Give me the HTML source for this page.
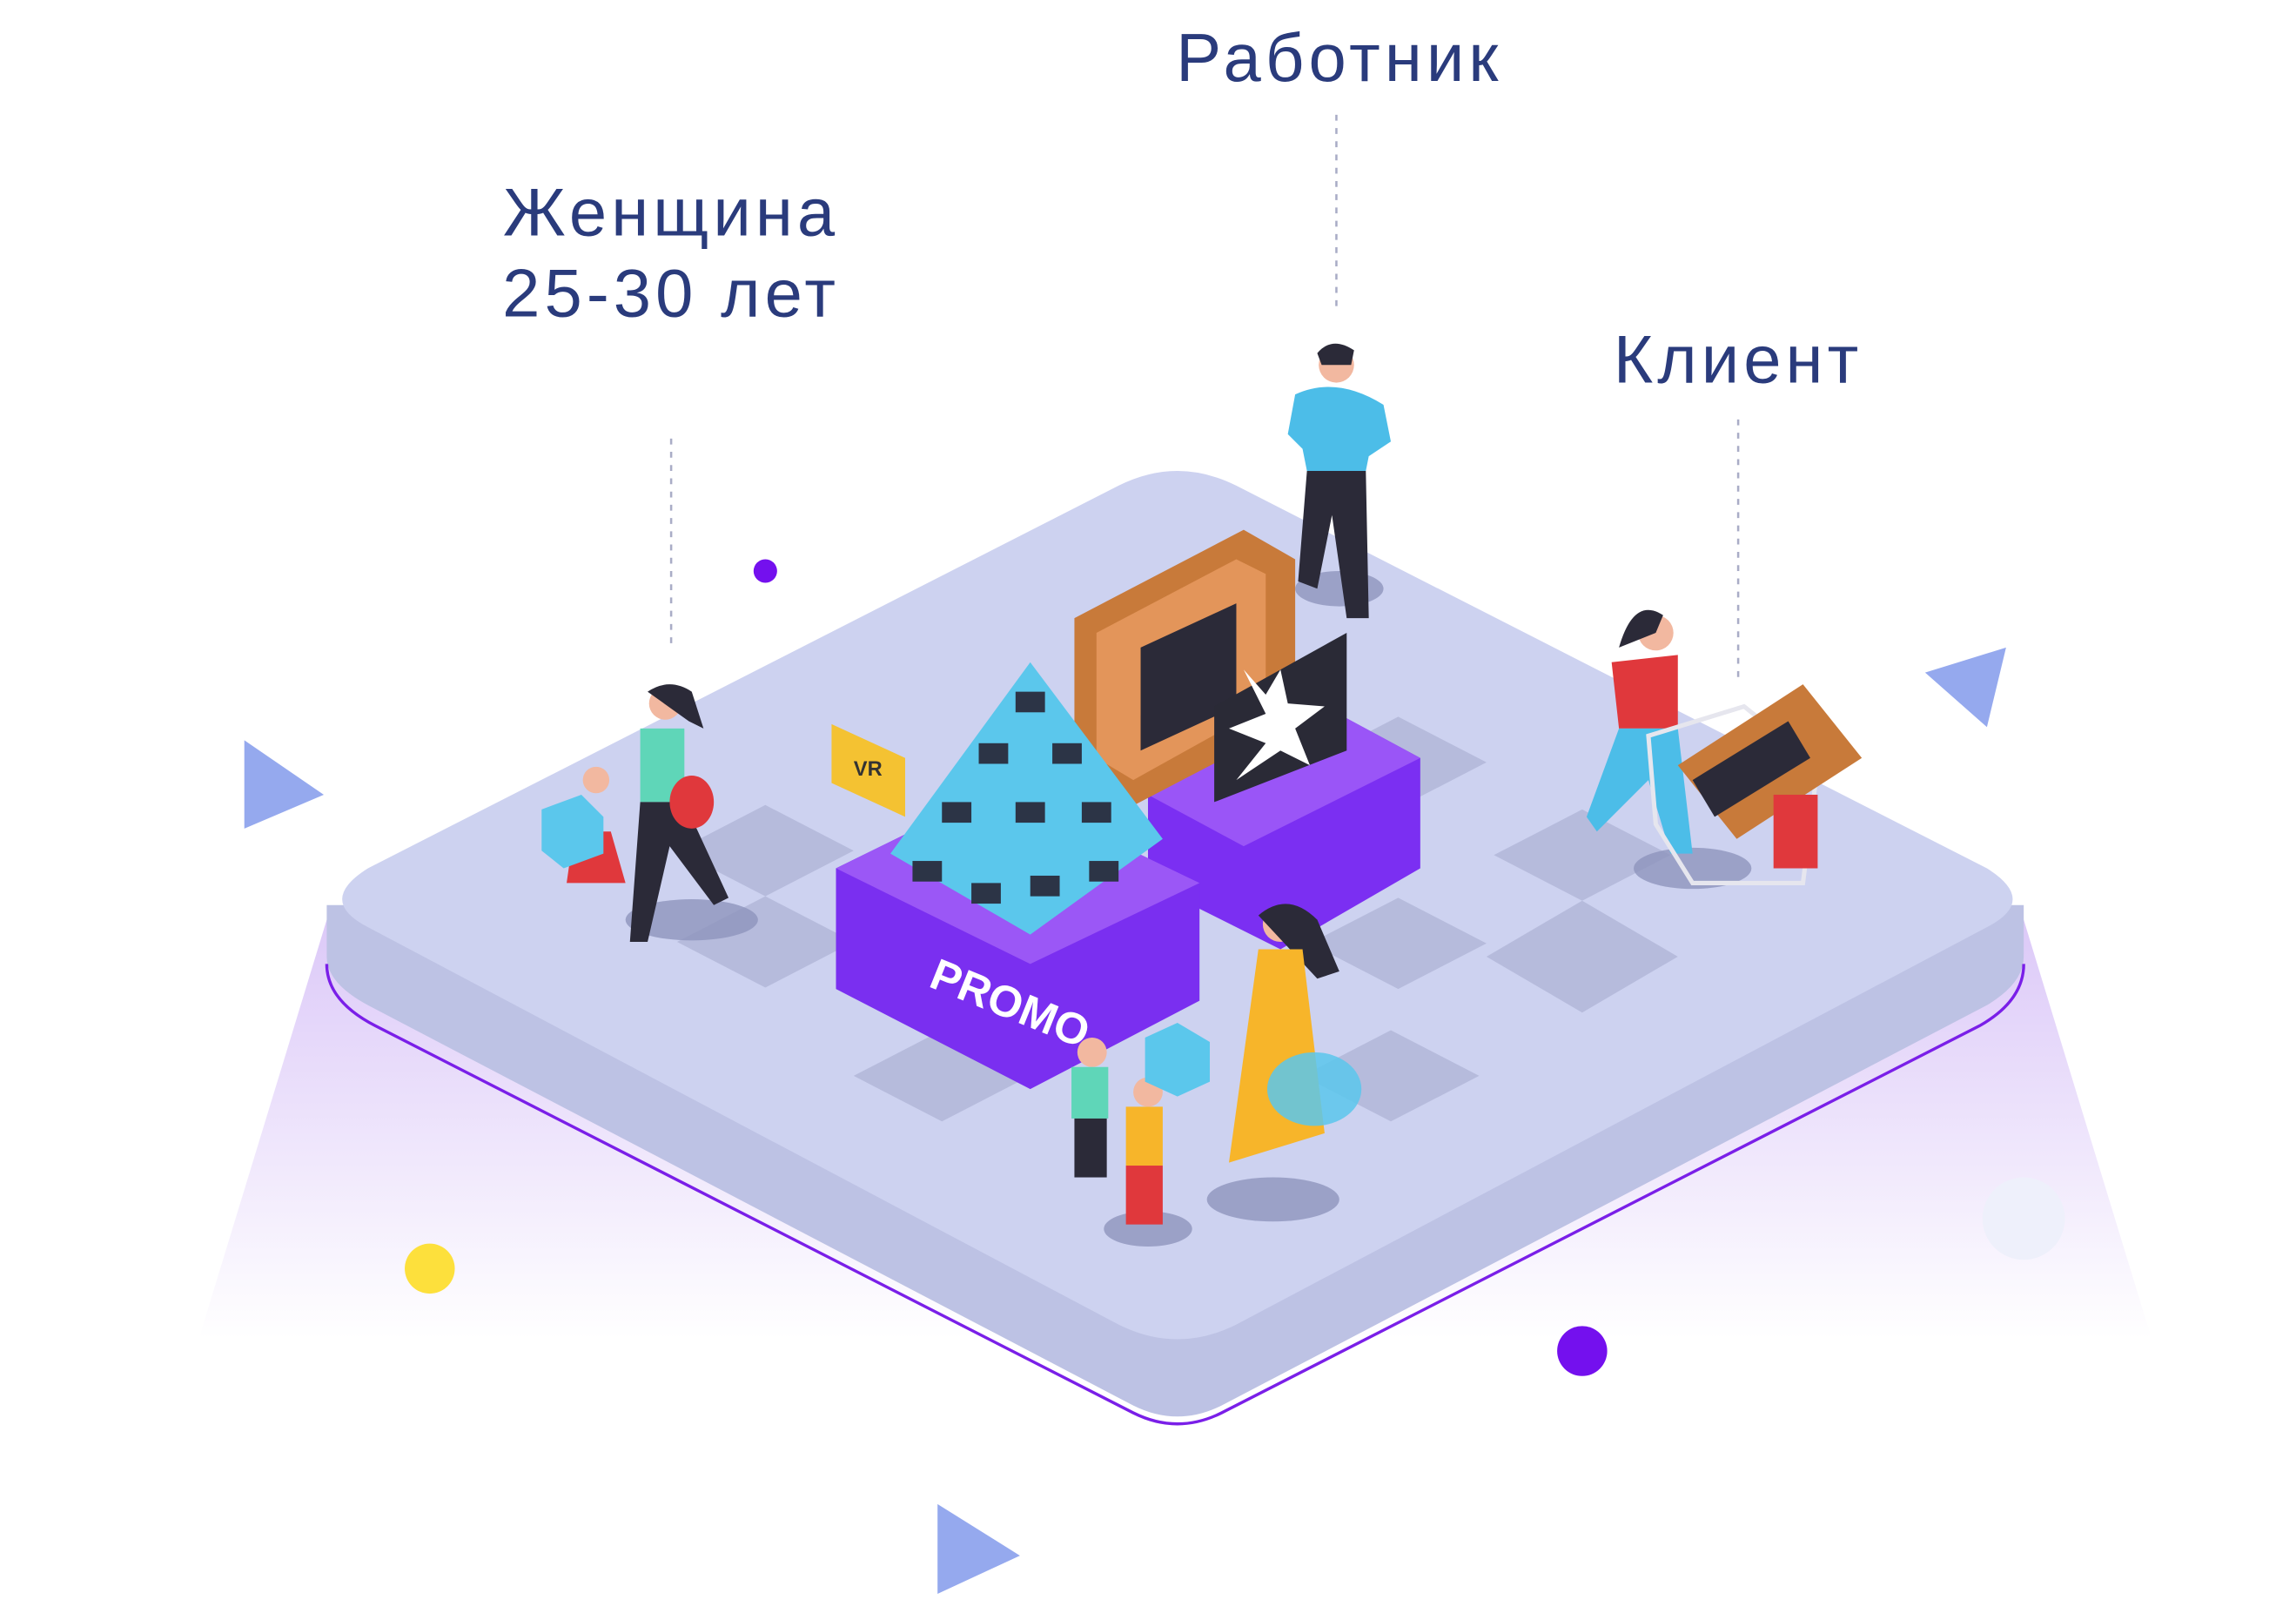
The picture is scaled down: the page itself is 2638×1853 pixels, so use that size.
<!DOCTYPE html>
<html><head><meta charset="utf-8"><style>
html,body{margin:0;padding:0;background:#fff}
svg{display:block}
</style></head><body>
<svg width="2638" height="1853" viewBox="0 0 1560 1096" preserveAspectRatio="none" xmlns="http://www.w3.org/2000/svg">
<defs>
<linearGradient id="g1" x1="0" y1="0" x2="0" y2="1">
<stop offset="0" stop-color="#dcc9f8"/><stop offset="1" stop-color="#ffffff"/>
</linearGradient>
</defs>
<rect width="1560" height="1096" fill="#fff"/>
<polygon points="222,625 1375,625 1462,910 135,910" fill="url(#g1)"/>
<path d="M222,615 L222,650 Q222,668 250,683 L770,955 Q800,970 830,955 L1350,683 Q1375,668 1375,650 L1375,615 Z" fill="#bdc2e4"/>
<path d="M250,590 L760,330 Q800,310 840,330 L1350,590 Q1385,612 1350,630 L840,900 Q800,920 760,900 L250,630 Q215,612 250,590 Z" fill="#cdd2f0"/>
<g fill="#b6bbdc">
<polygon points="520,547 580,578 520,609 460,578"/>
<polygon points="520,609 580,640 520,671 460,640"/>
<polygon points="640,700 700,731 640,762 580,731"/>
<polygon points="950,487 1010,518 950,549 890,518"/>
<polygon points="1075,550 1135,581 1075,612 1015,581"/>
<polygon points="1075,612 1140,650 1075,688 1010,650"/>
<polygon points="945,700 1005,731 945,762 885,731"/>
<polygon points="950,610 1010,641 950,672 890,641"/>
</g>
<path d="M222,655 Q222,680 255,697 L770,960 Q800,975 830,960 L1345,697 Q1375,680 1375,655" fill="none" stroke="#7a1fe8" stroke-width="2"/>
<g font-family="Liberation Sans, sans-serif" fill="#2a3b7c" text-anchor="middle" font-size="46" letter-spacing="3">
<text x="910" y="55">Работник</text>
<text x="456" y="160">Женщина</text>
<text x="456" y="215">25-30 лет</text>
<text x="1181" y="260">Клиент</text>
</g>
<g stroke="#a9acc6" stroke-width="1.5" stroke-dasharray="4,5">
<line x1="908" y1="78" x2="908" y2="210"/>
<line x1="456" y1="298" x2="456" y2="442"/>
<line x1="1181" y1="285" x2="1181" y2="460"/>
</g>
<g fill="#95a9ee">
<polygon points="166,503 220,540 166,563"/>
<polygon points="1308,457 1363,440 1350,494"/>
<polygon points="637,1022 693,1057 637,1083"/>
</g>
<circle cx="520" cy="388" r="8" fill="#7410ee"/>
<circle cx="292" cy="862" r="17" fill="#fde03c"/>
<circle cx="1075" cy="918" r="17" fill="#7410ee"/>
<circle cx="1375" cy="828" r="28" fill="#eef0fb"/>
<g fill="#8f95bd" opacity="0.8">
<ellipse cx="470" cy="625" rx="45" ry="14"/>
<ellipse cx="910" cy="400" rx="30" ry="12"/>
<ellipse cx="865" cy="815" rx="45" ry="15"/>
<ellipse cx="1150" cy="590" rx="40" ry="14"/>
<ellipse cx="780" cy="835" rx="30" ry="12"/>
</g>
<polygon points="780,540 900,480 965,515 965,590 870,645 780,600" fill="#7b2ff2"/>
<polygon points="780,540 900,480 965,515 845,575" fill="#9a55f7"/>
<polygon points="730,420 845,360 880,380 880,490 765,550 730,530" fill="#c87a3a"/>
<polygon points="745,430 840,380 860,390 860,480 770,530 745,515" fill="#e3955a"/>
<polygon points="775,440 840,410 840,480 775,510" fill="#2b2a38"/>
<polygon points="825,480 915,430 915,510 825,545" fill="#2a2a36"/>
<polygon points="845,455 860,485 835,495 860,505 840,530 870,510 890,520 880,495 900,480 875,478 870,455 860,472" fill="#fff"/>
<polygon points="568,590 680,535 815,600 815,680 700,740 568,672" fill="#7a2ff0"/>
<polygon points="568,590 680,535 815,600 700,655" fill="#9b57f6"/>
<text x="630" y="670" font-family="Liberation Sans, sans-serif" font-weight="bold" font-size="30" fill="#fff" transform="rotate(22 630 670)">PROMO</text>
<polygon points="605,580 700,450 790,570 700,635" fill="#5bc7ec"/>
<g fill="#2c3446">
<rect x="620" y="585" width="20" height="14"/><rect x="660" y="600" width="20" height="14"/>
<rect x="700" y="595" width="20" height="14"/><rect x="740" y="585" width="20" height="14"/>
<rect x="640" y="545" width="20" height="14"/><rect x="690" y="545" width="20" height="14"/>
<rect x="735" y="545" width="20" height="14"/><rect x="665" y="505" width="20" height="14"/>
<rect x="715" y="505" width="20" height="14"/><rect x="690" y="470" width="20" height="14"/>
</g>
<polygon points="565,492 615,515 615,555 565,532" fill="#f4c232"/>
<text x="580" y="527" font-family="Liberation Sans, sans-serif" font-weight="bold" font-size="14" fill="#333">VR</text>
<circle cx="908" cy="248" r="12" fill="#f2b8a0"/>
<path d="M895,240 Q905,228 920,238 L918,248 L898,248Z" fill="#2b2a38"/>
<path d="M880,268 Q908,255 940,275 L945,300 L930,310 L928,320 L888,320 L885,305 L875,295Z" fill="#4cbde8"/>
<polygon points="888,320 928,320 930,420 915,420 905,350 895,400 882,395" fill="#2b2a38"/>
<circle cx="452" cy="478" r="11" fill="#f2b8a0"/>
<path d="M440,470 Q455,460 470,470 L478,495 L468,490Z" fill="#2b2a38"/>
<path d="M435,495 L465,495 L465,545 L435,545Z" fill="#5fd6b8"/>
<path d="M435,545 L465,545 L495,610 L485,615 L455,575 L440,640 L428,640Z" fill="#2b2a38"/>
<ellipse cx="470" cy="545" rx="15" ry="18" fill="#e0383c"/>
<path d="M390,565 L415,565 L425,600 L385,600Z" fill="#e0383c"/>
<circle cx="405" cy="530" r="9" fill="#f2b8a0"/>
<polygon points="368,550 395,540 410,555 410,580 383,590 368,578" fill="#5bc7ec"/>
<circle cx="870" cy="628" r="12" fill="#f2b8a0"/>
<path d="M855,622 Q875,605 895,625 L910,660 L895,665Z" fill="#2b2a38"/>
<path d="M855,645 L885,645 L900,770 L835,790Z" fill="#f7b52a"/>
<ellipse cx="893" cy="740" rx="32" ry="25" fill="#5bc7ec" opacity="0.85"/>
<circle cx="742" cy="715" r="10" fill="#f2b8a0"/>
<rect x="728" y="725" width="25" height="35" fill="#5fd6b8"/>
<rect x="730" y="760" width="22" height="40" fill="#2b2a38"/>
<circle cx="780" cy="742" r="10" fill="#f2b8a0"/>
<rect x="765" y="752" width="25" height="40" fill="#f7b52a"/>
<rect x="765" y="792" width="25" height="40" fill="#e0383c"/>
<polygon points="778,705 800,695 822,708 822,735 800,745 778,735" fill="#5bc7ec"/>
<circle cx="1125" cy="430" r="12" fill="#f2b8a0"/>
<path d="M1100,440 Q1110,405 1130,418 L1125,430Z" fill="#2b2a38"/>
<path d="M1095,450 L1140,445 L1140,495 L1100,495Z" fill="#e0383c"/>
<path d="M1100,495 L1140,495 L1150,580 L1135,580 L1120,530 L1085,565 L1078,555Z" fill="#4cbde8"/>
<polygon points="1120,500 1185,480 1235,520 1225,600 1150,600 1125,560" fill="none" stroke="#e6e6ee" stroke-width="3"/>
<polygon points="1140,520 1225,465 1265,515 1180,570" fill="#c87a3a"/>
<polygon points="1150,530 1215,490 1230,515 1165,555" fill="#2b2a38"/>
<rect x="1205" y="540" width="30" height="50" fill="#e0383c"/>
</svg>
</body></html>
